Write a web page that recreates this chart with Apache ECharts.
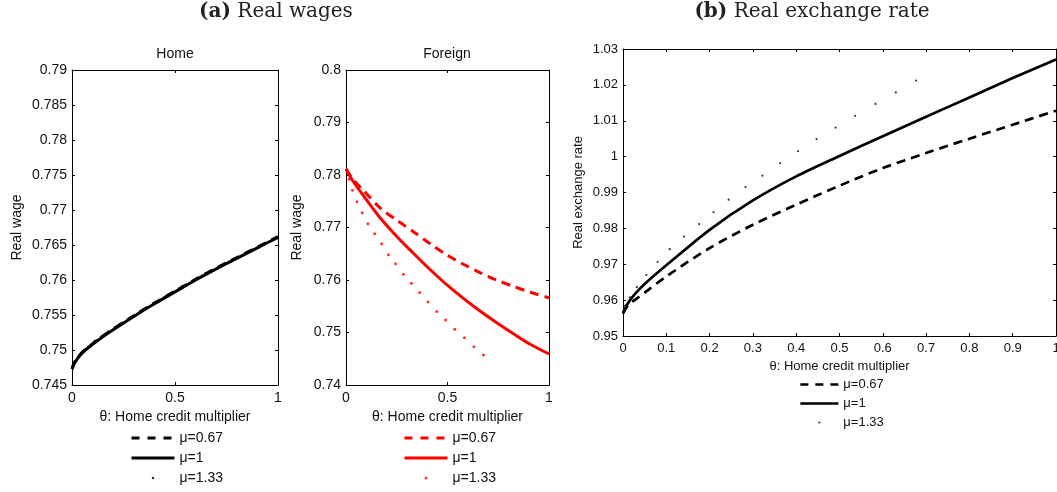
<!DOCTYPE html>
<html>
<head>
<meta charset="utf-8">
<script src="https://cdn.jsdelivr.net/npm/echarts@6/dist/echarts.min.js"></script>
<style>
html,body{margin:0;padding:0;background:#fff;}
#chart{width:1057px;height:492px;}
</style>
</head>
<body>
<div id="chart"></div>
<script>
// ---- data ----
const legendNames = ['μ=0.67', 'μ=1', 'μ=1.33'];

// (a) Home real wage
const thetaHome = [0, 0.01, 0.025, 0.05, 0.1, 0.15, 0.2, 0.3, 0.4, 0.5, 0.6, 0.7, 0.8, 0.9, 1];
const homeMu067 = [0.7473, 0.7481, 0.7488, 0.7497, 0.7509, 0.7520, 0.7530, 0.7549, 0.7567, 0.7584, 0.7601, 0.7617, 0.7632, 0.7647, 0.7662];
const homeMu1   = [0.7473, 0.7480, 0.7487, 0.7496, 0.7508, 0.7519, 0.7529, 0.7548, 0.7566, 0.7583, 0.7600, 0.7616, 0.7631, 0.7646, 0.7661];

// dotted series (mu = 1.33) points
const thetaDots = [0.005, 0.016, 0.032, 0.054, 0.08, 0.108, 0.141, 0.176, 0.209, 0.244, 0.283, 0.322, 0.363, 0.404, 0.447, 0.491, 0.536, 0.583, 0.63, 0.677];
const homeMu133 = [0.7478, 0.7484, 0.7491, 0.7498, 0.7505, 0.7512, 0.7519, 0.7526, 0.7532, 0.7539, 0.7546, 0.7553, 0.7560, 0.7568, 0.7575, 0.7583, 0.7591, 0.7598, 0.7606, 0.7614];

// (a) Foreign real wage
const thetaForeign = [0, 0.03, 0.087, 0.169, 0.25, 0.332, 0.414, 0.496, 0.578, 0.66, 0.741, 0.823, 0.905, 1];
const foreignMu067 = [0.7812, 0.7794, 0.7770, 0.7737, 0.7714, 0.7692, 0.7669, 0.7648, 0.7630, 0.7614, 0.7600, 0.7588, 0.7577, 0.7566];
const foreignMu1   = [0.7812, 0.7791, 0.7760, 0.7718, 0.7683, 0.7651, 0.7620, 0.7591, 0.7565, 0.7541, 0.7519, 0.7498, 0.7478, 0.7459];
const foreignMu133 = [0.7806, 0.7792, 0.7771, 0.7749, 0.7728, 0.7707, 0.7688, 0.7669, 0.7648, 0.7631, 0.7611, 0.7594, 0.7576, 0.7558, 0.7540, 0.7524, 0.7506, 0.7490, 0.7473, 0.7457];

// (b) Real exchange rate
const thetaRer = [0, 0.005, 0.015, 0.03, 0.05, 0.1, 0.2, 0.3, 0.4, 0.5, 0.6, 0.7, 0.8, 0.9, 1];
const rerMu067 = [0.9563, 0.9574, 0.9590, 0.9603, 0.9621, 0.9666, 0.9745, 0.9810, 0.9866, 0.9919, 0.9968, 1.0010, 1.0050, 1.0089, 1.0128];
const rerMu1   = [0.9563, 0.9578, 0.9598, 0.9620, 0.9645, 0.9697, 0.9796, 0.9878, 0.9945, 1.0002, 1.0057, 1.0111, 1.0165, 1.0219, 1.0271];
const rerMu133 = [0.9585, 0.9608, 0.9636, 0.9670, 0.9707, 0.9742, 0.9777, 0.9812, 0.9845, 0.9880, 0.9915, 0.9947, 0.9982, 1.0015, 1.0049, 1.0081, 1.0114, 1.0147, 1.0179, 1.0212];

// ---- helpers ----
const SANS = 'Liberation Sans';
const SERIF = 'DejaVu Serif';
const INK = '#111';
const zip = (xs, ys) => xs.map((x, i) => [x, ys[i]]);

function axesFor(g, xr, yr, fs, xGap, yName, yGap) {
  const common = {
    gridIndex: g, type: 'value', splitLine: {show: false},
    axisLine: {show: true, onZero: false, lineStyle: {color: '#000', width: 1}},
    axisTick: {show: true, inside: true, length: 3, lineStyle: {color: '#000', width: 1}},
  };
  const xb = Object.assign({}, common, {
    position: 'bottom', min: xr[0], max: xr[1], interval: xr[2],
    axisLabel: {show: true, margin: 6, color: INK, fontSize: fs, fontFamily: SANS, showMinLabel: true, showMaxLabel: true},
    name: 'θ: Home credit multiplier', nameLocation: 'middle', nameGap: xGap,
    nameTextStyle: {color: INK, fontSize: fs, fontFamily: SANS}
  });
  const xt = Object.assign({}, common, {
    position: 'top', min: xr[0], max: xr[1], interval: xr[2], axisLabel: {show: false}
  });
  const yl = Object.assign({}, common, {
    position: 'left', min: yr[0], max: yr[1], interval: yr[2],
    axisLabel: {show: true, margin: 5, color: INK, fontSize: fs, fontFamily: SANS, showMinLabel: true, showMaxLabel: true},
    name: yName, nameLocation: 'middle', nameGap: yGap,
    nameTextStyle: {color: INK, fontSize: fs, fontFamily: SANS}
  });
  const yr2 = Object.assign({}, common, {
    position: 'right', min: yr[0], max: yr[1], interval: yr[2], axisLabel: {show: false}
  });
  return {x: [xb, xt], y: [yl, yr2]};
}

const A0 = axesFor(0, [0, 1, 0.5], [0.745, 0.79, 0.005], 14, 24, 'Real wage', 48);
const A1 = axesFor(1, [0, 1, 0.5], [0.74, 0.8, 0.01], 14, 24, 'Real wage', 42);
const A2 = axesFor(2, [0, 1, 0.1], [0.95, 1.03, 0.01], 13, 23, 'Real exchange rate', 38);

function lineSeries(name, xi, yi, data, color, width, dash) {
  return {
    name: name, type: 'line', xAxisIndex: xi, yAxisIndex: yi, data: data,
    symbol: 'none', smooth: 0.3, animation: false, silent: true,
    lineStyle: {color: color, width: width, type: dash || 'solid', cap: 'butt'},
    itemStyle: {color: color}
  };
}
function dotSeries(name, xi, yi, data, color, size) {
  return {
    name: name, type: 'scatter', xAxisIndex: xi, yAxisIndex: yi, data: data,
    symbol: 'circle', symbolSize: size, animation: false, silent: true,
    itemStyle: {color: color}
  };
}

function legendFor(p, left, top, w, h, fs, dash, lw) {
  return {
    orient: 'vertical', left: left, top: top, padding: 0, itemWidth: w, itemHeight: h, itemGap: 6,
    selectedMode: false, align: 'left',
    formatter: n => n.split('|')[1],
    textStyle: {color: INK, fontSize: fs, fontFamily: SANS},
    data: [
      {name: p + legendNames[0], itemStyle: {opacity: 0}, lineStyle: {type: dash, width: lw}},
      {name: p + legendNames[1], itemStyle: {opacity: 0}, lineStyle: {type: 'solid', width: lw}},
      {name: p + legendNames[2]}
    ]
  };
}

const richTitle = {
  b: {fontFamily: SERIF, fontWeight: 'bold', fontSize: 20, color: '#222'},
  n: {fontFamily: SERIF, fontWeight: 'normal', fontSize: 20, color: '#222'}
};

const option = {
  backgroundColor: '#fff',
  animation: false,
  title: [
    {text: '{b|(a)}{n| Real wages}', left: 276, top: 2, padding: 0, textAlign: 'center',
     textStyle: {fontWeight: 'normal', fontFamily: SERIF, fontSize: 20, rich: richTitle}},
    {text: '{b|(b)}{n| Real exchange rate}', left: 812, top: 2, padding: 0, textAlign: 'center',
     textStyle: {fontWeight: 'normal', fontFamily: SERIF, fontSize: 20, rich: richTitle}},
    {text: 'Home', left: 175, top: 47, padding: 0, textAlign: 'center',
     textStyle: {fontFamily: SANS, fontWeight: 'normal', fontSize: 14, color: INK}},
    {text: 'Foreign', left: 447, top: 47, padding: 0, textAlign: 'center',
     textStyle: {fontFamily: SANS, fontWeight: 'normal', fontSize: 14, color: INK}}
  ],
  grid: [
    {left: 72, top: 70, width: 206, height: 315, outerBoundsMode: 'none', containLabel: false},
    {left: 346, top: 70, width: 203, height: 315, outerBoundsMode: 'none', containLabel: false},
    {left: 623, top: 49, width: 433, height: 287, outerBoundsMode: 'none', containLabel: false}
  ],
  xAxis: [].concat(A0.x, A1.x, A2.x),
  yAxis: [].concat(A0.y, A1.y, A2.y),
  legend: [
    legendFor('H|', 130, 431, 43, 2.5, 14, [8, 8], 3),
    legendFor('F|', 403, 431, 43, 3, 14, [8, 8], 3),
    legendFor('R|', 799, 378, 38, 2.2, 13, [8, 7], 2.7)
  ],
  series: [
    lineSeries('H|' + legendNames[0], 0, 0, zip(thetaHome, homeMu067), '#000', 3, [9, 6]),
    lineSeries('H|' + legendNames[1], 0, 0, zip(thetaHome, homeMu1), '#000', 3),
    dotSeries('H|' + legendNames[2], 0, 0, zip(thetaDots, homeMu133), '#000', 2.5),

    lineSeries('F|' + legendNames[0], 2, 2, zip(thetaForeign, foreignMu067), '#ff0000', 3, [9, 6]),
    lineSeries('F|' + legendNames[1], 2, 2, zip(thetaForeign, foreignMu1), '#ff0000', 3),
    dotSeries('F|' + legendNames[2], 2, 2, zip(thetaDots, foreignMu133), '#ff0000', 3),

    lineSeries('R|' + legendNames[0], 4, 4, zip(thetaRer, rerMu067), '#000', 2.7, [9, 6]),
    lineSeries('R|' + legendNames[1], 4, 4, zip(thetaRer, rerMu1), '#000', 2.7),
    dotSeries('R|' + legendNames[2], 4, 4, zip(thetaDots, rerMu133), '#000', 2.2)
  ]
};

const chart = echarts.init(document.getElementById('chart'), null, {renderer: 'canvas'});
chart.setOption(option);
</script>
</body>
</html>
